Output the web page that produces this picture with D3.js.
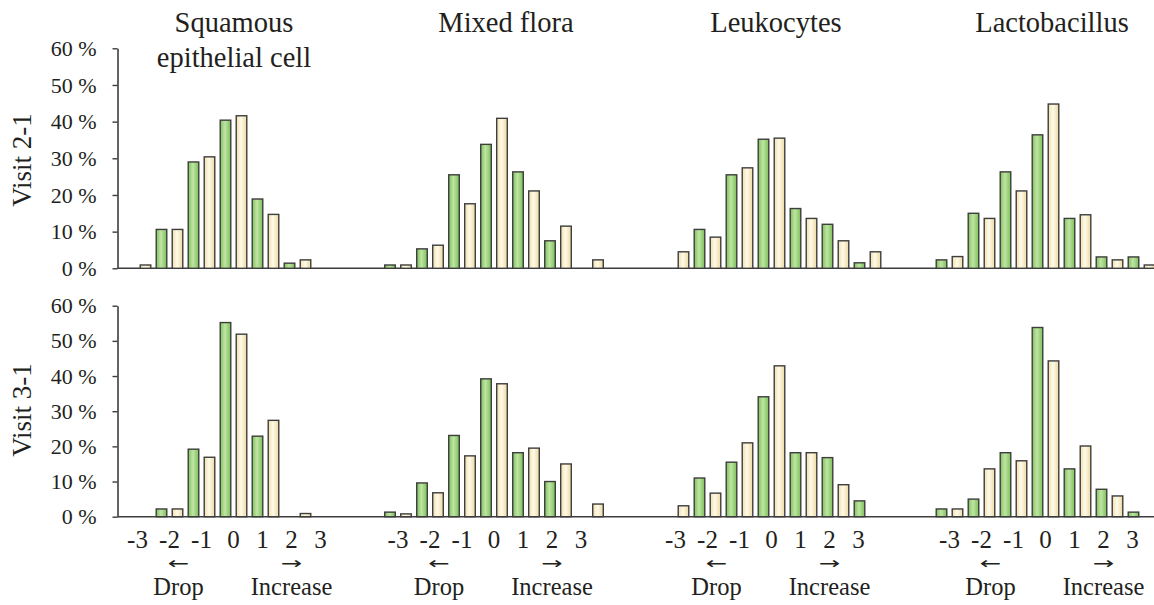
<!DOCTYPE html>
<html>
<head>
<meta charset="utf-8">
<script src="https://cdn.jsdelivr.net/npm/d3@7"></script>
<style>
  body { margin: 0; background: #fff; }
</style>
</head>
<body>
<script>
// categories of change and panel names
const categories = [-3, -2, -1, 0, 1, 2, 3]
const panel_titles = [["Squamous", "epithelial cell"], ["Mixed flora"], ["Leukocytes"], ["Lactobacillus"]]
const row_labels = ["Visit 2-1", "Visit 3-1"]
const y_ticks = [0, 10, 20, 30, 40, 50, 60]

// percentages, one row per panel, values for -3..3
const green_v21 = [
    [0, 10.6, 29.0, 40.4, 18.9, 1.4, 0],
    [0.9, 5.3, 25.5, 33.8, 26.3, 7.5, 0],
    [0, 10.6, 25.5, 35.2, 16.3, 12.0, 1.5],
    [2.3, 15.0, 26.3, 36.4, 13.6, 3.1, 3.1]
]
const cream_v21 = [
    [0.9, 10.6, 30.4, 41.6, 14.7, 2.3, 0],
    [0.9, 6.3, 17.6, 40.9, 21.1, 11.5, 2.3],
    [4.5, 8.5, 27.4, 35.5, 13.6, 7.5, 4.5],
    [3.2, 13.6, 21.1, 44.8, 14.6, 2.3, 0.9]
]
const green_v31 = [
    [0, 2.2, 19.2, 55.2, 22.9, 0, 0],
    [1.3, 9.6, 23.1, 39.2, 18.2, 10.0, 0],
    [0, 11.0, 15.5, 34.1, 18.2, 16.8, 4.5],
    [2.2, 5.0, 18.2, 53.8, 13.6, 7.8, 1.3]
]
const cream_v31 = [
    [0, 2.2, 16.9, 51.9, 27.4, 0.9, 0],
    [0.8, 6.8, 17.3, 37.8, 19.5, 15.0, 3.6],
    [3.1, 6.7, 21.0, 42.9, 18.2, 9.1, 0],
    [2.2, 13.6, 15.9, 44.3, 20.1, 5.9, 0]
]

// layout
const W = 1154, H = 605
const panel_x = [121.5, 382, 659.5, 933.5]
const title_x = [234, 506, 776, 1052]
const step = 32
const axis_x = 117.5
const rows = [
    { top: 48.3, bottom: 268.3, green: green_v21, cream: cream_v21, label_y: 160 },
    { top: 305.7, bottom: 516.7, green: green_v31, cream: cream_v31, label_y: 410 }
]
const ink = "#3d3d3d"
const serif = "Liberation Serif"

const svg = d3.select("body").append("svg").attr("width", W).attr("height", H)

const defs = svg.append("defs")
function gradient(id, stops) {
    let g = defs.append("linearGradient").attr("id", id)
        .attr("x1", "0%").attr("x2", "100%").attr("y1", "0%").attr("y2", "0%")
    stops.forEach(s => g.append("stop").attr("offset", s[0]).attr("stop-color", s[1]))
}
gradient("g_green", [["0%", "#7fc25b"], ["45%", "#bfe5a5"], ["100%", "#7cbf57"]])
gradient("g_cream", [["0%", "#efdfae"], ["45%", "#fffbe8"], ["100%", "#ecd9a4"]])

const inner = d3.scaleBand().domain(["green", "cream"]).range([0, step])
    .paddingInner(0.34).paddingOuter(0.17)

function label(x, y, size, t) {
    return svg.append("text").attr("x", x).attr("y", y)
        .attr("text-anchor", "middle").attr("font-size", size)
        .attr("font-family", serif).attr("fill", "#231f20").text(t)
}

function arrow(x, t) {
    return svg.append("text").attr("transform", `translate(${x},569) scale(1.5,1)`)
        .attr("text-anchor", "middle").attr("font-size", 17)
        .attr("font-family", "DejaVu Sans").attr("fill", "#231f20").text(t)
}

rows.forEach((row, ri) => {
    const y = d3.scaleLinear().domain([0, 60]).range([row.bottom, row.top])

    // y axis on the first panel only
    const yAxis = d3.axisLeft(y).tickValues(y_ticks).tickSize(5).tickSizeOuter(0)
        .tickFormat(d => d + " %")
    const ga = svg.append("g").attr("transform", `translate(${axis_x},0)`).call(yAxis)
        .attr("font-family", serif)
    ga.select(".domain").attr("stroke", ink).attr("stroke-width", 1.6)
    ga.selectAll(".tick line").attr("stroke", ink).attr("stroke-width", 1.4)
    ga.selectAll(".tick text").attr("x", -21).attr("font-size", 22).attr("fill", "#231f20")

    // baseline across all panels
    svg.append("line").attr("x1", axis_x).attr("x2", W)
        .attr("y1", y(0)).attr("y2", y(0))
        .attr("stroke", ink).attr("stroke-width", 1.6)

    label(0, 0, 27, row_labels[ri]).attr("transform", `translate(31,${row.label_y}) rotate(-90)`)

    panel_x.forEach((px, pi) => {
        const x = d3.scaleBand().domain(categories).range([px, px + step * categories.length])
        const bars = []
        categories.forEach((c, ci) => {
            bars.push({ c: c, s: "green", v: row.green[pi][ci] })
            bars.push({ c: c, s: "cream", v: row.cream[pi][ci] })
        })
        svg.append("g").selectAll("rect")
            .data(bars.filter(b => b.v > 0))
            .enter()
            .append("rect")
            .attr("x", b => x(b.c) + inner(b.s))
            .attr("width", inner.bandwidth())
            .attr("y", b => y(b.v))
            .attr("height", b => y(0) - y(b.v))
            .attr("fill", b => b.s === "green" ? "url(#g_green)" : "url(#g_cream)")
            .attr("stroke", ink).attr("stroke-width", 1.4)

        if (ri === 1) {
            categories.forEach(c => label(x(c) + step / 2 - (c > 0 ? 3 * c : 0), 548, 25, c))
            const drop_x = x(-2) + step / 2 + 9
            const inc_x = x(2) + step / 2 - 6
            arrow(drop_x, "\u2190")
            arrow(inc_x, "\u2192")
            label(drop_x, 595, 24.5, "Drop")
            label(inc_x, 595, 24.5, "Increase")
        }
    })
})

// panel titles
panel_titles.forEach((lines, pi) => {
    lines.forEach((t, li) => label(title_x[pi], 32 + li * 35, 28.5, t))
})
</script>
</body>
</html>
